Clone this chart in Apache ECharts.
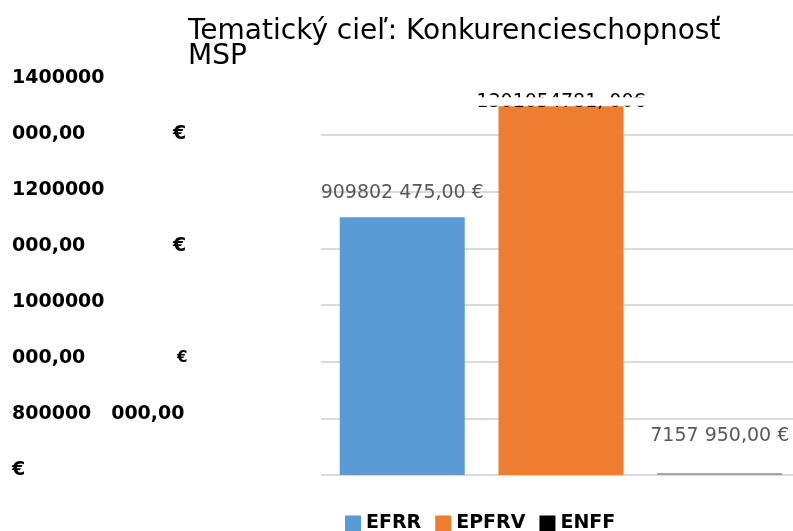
<!DOCTYPE html>
<html>
<head>
<meta charset="utf-8">
<script src="https://cdn.jsdelivr.net/npm/echarts@6/dist/echarts.min.js"></script>
<style>
  html, body { margin: 0; padding: 0; background: #fff; }
  #chart { width: 793px; height: 531px; }
</style>
</head>
<body>
<div id="chart"></div>
<script>
// Funds allocated to the thematic objective, per fund
const funds = ['EFRR', 'EPFRV', 'ENFF'];
const amounts = [909802475, 1301054781, 7157950];
const amountLabels = ['909802 475,00 €', '1301054781, 00€', '7157 950,00 €'];
const fundColors = ['#5b9bd5', '#ed7d31', '#a5a5a5'];
const legendColors = ['#5b9bd5', '#ed7d31', '#000000'];

// Value-axis tick texts, from the top tick (1 400 000 000) down to 0
const tickTexts = [
  '1400000',
  '{n|000,00}{e|€}',
  '1200000',
  '{n|000,00}{e|€}',
  '1000000',
  '{n|000,00}{s|€}',
  '800000   000,00',
  '€'
];
const axisMax = 1400000000;
const axisStep = 200000000;

const chart = echarts.init(document.getElementById('chart'), null, { renderer: 'canvas' });

const labelDistances = [15, 2, 27];
const labelOffsets = [[0, 0], [0, 7], [0, 0]];
const labelFonts = [
  { color: '#595959', fontFamily: 'DejaVu Sans', fontSize: 19 },
  { color: '#000000', fontFamily: 'DejaVu Sans', fontSize: 19 },
  { color: '#595959', fontFamily: 'DejaVu Sans', fontSize: 19 }
];

const gridColors = [];
for (let v = 0; v <= axisMax; v += axisStep) {
  gridColors.push(v < axisMax ? '#dadada' : 'rgba(0,0,0,0)');
}

const option = {
  animation: false,
  backgroundColor: '#ffffff',
  title: {
    text: 'Tematický cieľ: Konkurencieschopnosť\nMSP',
    left: 183,
    top: 14,
    textStyle: {
      fontFamily: 'DejaVu Sans',
      fontWeight: 'normal',
      fontSize: 28,
      lineHeight: 25,
      color: '#000000'
    }
  },
  legend: {
    left: 345,
    top: 514,
    padding: 0,
    icon: 'rect',
    itemWidth: 16,
    itemHeight: 16,
    itemGap: 14,
    textStyle: {
      fontFamily: 'DejaVu Sans',
      fontWeight: 'bold',
      fontSize: 19,
      color: '#000000'
    },
    data: funds.map((name, i) => ({ name: name, itemStyle: { color: legendColors[i] } }))
  },
  grid: [
    // plot area with the bars (runs slightly past the right edge)
    { left: 321, width: 480, top: 78.3, bottom: 56, outerBoundsMode: 'none' },
    // band carrying only the value-axis texts
    { left: 321, width: 480, top: 78, bottom: 61, outerBoundsMode: 'none' }
  ],
  xAxis: [
    {
      type: 'category',
      gridIndex: 0,
      data: ['Konkurencieschopnosť MSP'],
      axisLine: { show: false },
      axisTick: { show: false },
      axisLabel: { show: false }
    },
    {
      type: 'category',
      gridIndex: 1,
      data: ['Konkurencieschopnosť MSP'],
      show: false
    }
  ],
  yAxis: [
    {
      type: 'value',
      gridIndex: 0,
      min: 0,
      max: axisMax,
      interval: axisStep,
      axisLine: { show: false },
      axisTick: { show: false },
      axisLabel: { show: false },
      splitLine: { lineStyle: { color: gridColors, width: 2 } }
    },
    {
      type: 'value',
      gridIndex: 1,
      min: 0,
      max: axisMax,
      interval: axisStep,
      axisLine: { show: false },
      axisTick: { show: false },
      splitLine: { show: false },
      axisLabel: {
        align: 'left',
        margin: 309,
        fontFamily: 'DejaVu Sans',
        fontWeight: 'bold',
        fontSize: 19,
        color: '#000000',
        formatter: function (value) {
          const idx = Math.round((axisMax - value) / axisStep);
          return tickTexts[idx];
        },
        rich: {
          n: { fontFamily: 'DejaVu Sans', fontWeight: 'bold', fontSize: 19, width: 161, color: '#000' },
          e: { fontFamily: 'DejaVu Sans', fontWeight: 'bold', fontSize: 19, color: '#000' },
          s: { fontFamily: 'DejaVu Sans', fontWeight: 'bold', fontSize: 15, padding: [0, 0, 0, 4], color: '#000' }
        }
      }
    }
  ],
  series: funds.map((name, i) => ({
    name: name,
    type: 'bar',
    xAxisIndex: 0,
    yAxisIndex: 0,
    barWidth: 125,
    barGap: '27%',
    itemStyle: { color: fundColors[i] },
    label: Object.assign({
      show: true,
      position: 'top',
      distance: labelDistances[i],
      offset: labelOffsets[i],
      formatter: amountLabels[i]
    }, labelFonts[i]),
    data: [amounts[i]]
  }))
};

chart.setOption(option);

// White strip that hides the lower part of the tallest bar's value text
const peak = chart.convertToPixel({ xAxisIndex: 0, yAxisIndex: 0 }, [0, amounts[1]]);
chart.setOption({
  graphic: {
    elements: [{
      type: 'rect',
      z: 100,
      shape: { x: peak[0] - 100, y: peak[1] - 9, width: 200, height: 8.5 },
      style: { fill: '#ffffff' }
    }]
  }
});
</script>
</body>
</html>
